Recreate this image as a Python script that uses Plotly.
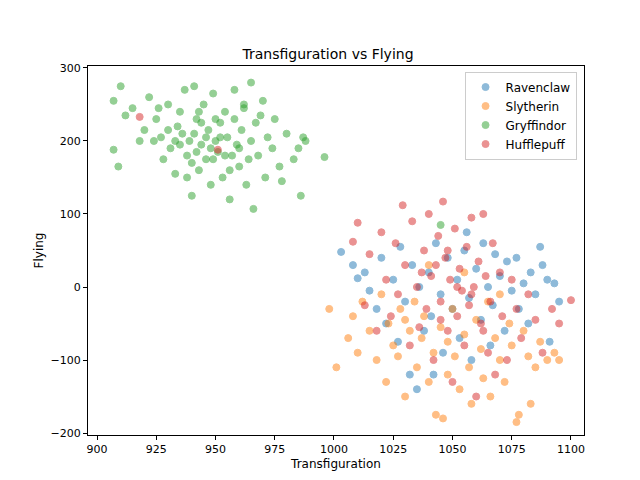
import plotly.graph_objects as go

gryffindor = [(907,255),(910,275),(912,235),(909,165),(907,188),(915,245),(918,200),(920,215),(922,260),(925,230),(927,205),(928,175),(930,250),(931,190),(933,155),(934,220),(935,240),(937,270),(938,180),(939,200),(940,125),(941,210),(942,230),(943,160),(944,195),(945,250),(946,175),(947,215),(948,140),(949,265),(950,200),(951,185),(952,225),(953,150),(954,240),(955,205),(956,120),(957,180),(958,230),(959,195),(960,165),(961,215),(962,245),(963,140),(965,200),(966,107),(967,225),(968,180),(970,255),(971,150),(972,205),(974,190),(975,230),(977,165),(978,145),(980,210),(983,175),(985,190),(986,125),(987,205),(988,200),(996,178),(936,210),(944,225),(948,190),(952,205),(940,170),(956,160),(964,175),(930,215),(924,200),(926,245),(969,235),(958,270),(962,250),(941,275),(965,280),(1045,85),(938,150),(946,205),(950,230),(954,180),(933,200),(943,240),(949,175),(960,190),(935,195),(942,185)]
ravenclaw = [(1003,48),(1008,30),(1010,12),(1013,20),(1015,-5),(1018,-30),(1020,40),(1022,-50),(1025,10),(1027,-75),(1028,55),(1030,-20),(1032,-120),(1033,30),(1035,-140),(1036,0),(1038,-60),(1040,20),(1041,-40),(1043,60),(1045,-10),(1046,-90),(1048,40),(1050,-30),(1052,10),(1053,-70),(1055,50),(1057,-15),(1058,-100),(1060,25),(1062,-45),(1063,60),(1065,0),(1067,-25),(1068,45),(1070,15),(1072,-60),(1073,35),(1075,-5),(1077,40),(1078,-30),(1080,5),(1082,-50),(1085,-10),(1087,55),(1088,30),(1090,10),(1091,-75),(1093,5),(1095,-20),(1083,20),(1066,-80),(1042,-120),(1056,75)]
slytherin = [(998,-30),(1001,-110),(1006,-70),(1008,-40),(1010,-90),(1012,-20),(1015,-60),(1018,-100),(1020,-10),(1022,-130),(1023,-50),(1025,-80),(1027,-95),(1028,-30),(1030,-150),(1032,-60),(1034,-20),(1035,-110),(1037,-70),(1038,-40),(1040,-130),(1042,-90),(1043,-175),(1045,-55),(1046,-180),(1048,-120),(1050,-30),(1051,-95),(1053,-140),(1055,-65),(1057,-110),(1058,-160),(1060,-45),(1062,-85),(1063,-125),(1065,-20),(1066,-150),(1068,-70),(1070,-100),(1072,-130),(1074,-50),(1075,-80),(1077,-185),(1078,-175),(1080,-60),(1082,-95),(1083,-160),(1085,-110),(1087,-75),(1090,-100),(1093,-90),(1095,-100),(1040,30),(1055,20),(1070,-10),(1030,-45),(1048,-75)]
hufflepuff = [(918,233),(951,188),(1008,62),(1010,88),(1013,-25),(1015,45),(1018,-60),(1020,75),(1022,10),(1024,-40),(1026,60),(1027,-10),(1029,112),(1030,30),(1032,-80),(1033,90),(1035,0),(1036,-55),(1038,50),(1039,-30),(1040,100),(1041,15),(1042,-100),(1044,70),(1045,-20),(1046,117),(1047,40),(1048,-60),(1049,10),(1050,-130),(1051,80),(1052,-40),(1053,25),(1054,-5),(1055,-80),(1056,55),(1057,-25),(1058,95),(1059,0),(1060,-150),(1061,35),(1062,-50),(1063,100),(1064,15),(1065,-90),(1066,-20),(1067,60),(1068,-120),(1070,20),(1071,-40),(1073,-100),(1075,10),(1077,-30),(1079,-70),(1082,-10),(1085,-45),(1088,-90),(1092,-30),(1100,-18),(1095,-50),(1043,30),(1048,50),(1052,0),(1037,20),(1058,-10),(1063,-60),(1045,-45)]

houses = [("Ravenclaw", ravenclaw, "#1f77b4"), ("Slytherin", slytherin, "#ff7f0e"),
          ("Gryffindor", gryffindor, "#2ca02c"), ("Hufflepuff", hufflepuff, "#d62728")]

fig = go.Figure()
for name, pts, c in houses:
    fig.add_trace(go.Scatter(x=[p[0] for p in pts], y=[p[1] for p in pts], mode="markers", name=name,
                             marker=dict(color=c, size=7, opacity=0.5, line=dict(width=1, color=c))))

ax = dict(showgrid=False, zeroline=False, showline=True, mirror=True, linecolor="black",
          ticks="outside", tickcolor="black", ticklen=4, tickfont=dict(size=11, color="black"),
          automargin=False)
fig.update_layout(
    width=640, height=480, plot_bgcolor="white", paper_bgcolor="white",
    font=dict(family="DejaVu Sans", color="black"),
    margin=dict(l=80, r=64, t=58, b=53, autoexpand=False),
    title=dict(text="Transfiguration vs Flying", x=0.5, xanchor="center", y=0.915, font=dict(size=14)),
    xaxis=dict(ax, range=[896.2, 1105.5], tickvals=[900,925,950,975,1000,1025,1050,1075,1100],
               title=dict(text="Transfiguration", font=dict(size=12), standoff=4)),
    yaxis=dict(ax, range=[-202.7, 302.7], tickvals=[-200,-100,0,100,200,300],
               title=dict(text="Flying", font=dict(size=12), standoff=4)),
    legend=dict(x=0.985, y=0.985, xanchor="right", yanchor="top", bordercolor="#cccccc",
                borderwidth=1, font=dict(size=12), bgcolor="rgba(255,255,255,0.8)"),
)
fig.write_html("out.html")
